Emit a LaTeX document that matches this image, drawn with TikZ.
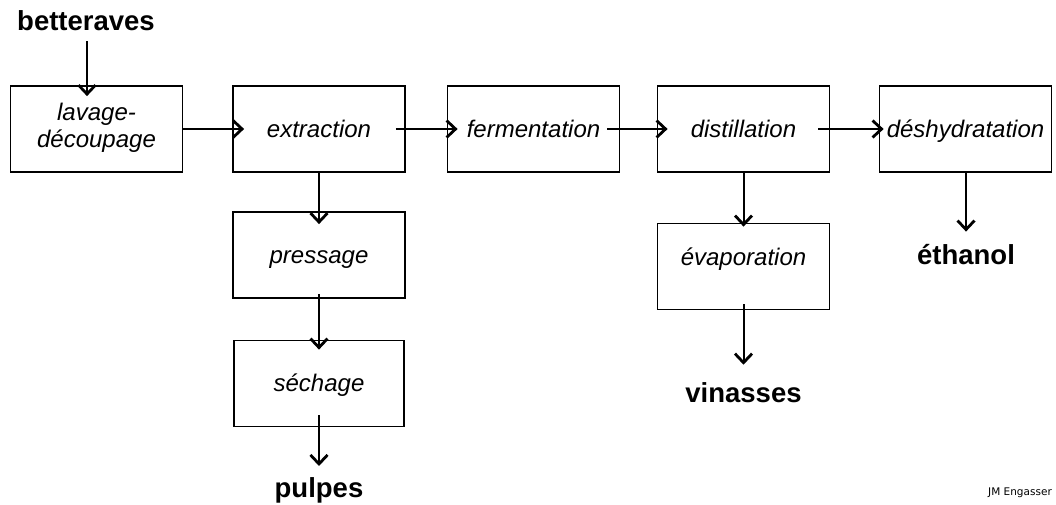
\documentclass[tikz,border=0pt]{standalone}
\usepackage{fontspec}
\setmainfont{Liberation Sans}
\newfontfamily\sigfont{DejaVu Sans}
\usetikzlibrary{arrows.meta}
\begin{document}
\begin{tikzpicture}[x=1pt,y=-1pt,
  procbox/.style={draw, line width=1.8pt, inner sep=0pt, minimum width=172pt, minimum height=86pt,
     align=center, text height=20pt, text depth=4pt, font=\fontsize{24}{26}\selectfont\itshape},
  outlbl/.style={inner sep=0pt, font=\fontsize{27.5}{30}\selectfont\bfseries},
  flow/.style={line width=2pt, -{Straight Barb[length=9pt,width=17pt,line width=2.8pt]}}]
\useasboundingbox (0,0) rectangle (1056,504);
% process boxes
\node[procbox, text height=, text depth=, font=\fontsize{24}{27}\selectfont\itshape] (lav) at (96.5,129) {\begin{tabular}{@{}c@{}}lavage-\\découpage\end{tabular}};
\node[procbox] (ext) at (319,129) {extraction};
\node[procbox] (ferm) at (533.5,129) {fermentation};
\node[procbox] (dist) at (743.5,129) {distillation};
\node[procbox] (desh) at (965.5,129) {déshydratation};
\node[procbox] (press) at (319,255) {pressage};
\node[procbox, minimum width=170pt] (sech) at (319,383.5) {séchage};
\node[procbox] (evap) at (743.5,266.5) {\raisebox{9.5pt}{évaporation}};
% outputs
\node[outlbl] (bett) at (86,21) {betteraves};
\node[outlbl] (pulp) at (319,490) {pulpes};
\node[outlbl] (vin) at (743.5,393) {vinasses};
\node[outlbl] (eth) at (966,255) {éthanol};
\node[inner sep=0pt, font=\sigfont\fontsize{10.5}{12}\selectfont] (sig) at (1020,493) {JM Engasser};
% connectors
\draw[flow, shorten <=10pt, shorten >=-11pt] (bett.south -| 87,0) -- (lav.north -| 87,0);
\draw[flow, shorten >=-12pt] (lav) -- (ext);
\draw[flow, shorten <=-10pt, shorten >=-11pt] (ext) -- (ferm);
\draw[flow, shorten <=-13pt, shorten >=-11pt] (ferm) -- (dist);
\draw[flow, shorten <=-12pt, shorten >=-5pt] (dist) -- (desh);
\draw[flow, shorten >=-13pt] (ext) -- (press);
\draw[flow, shorten <=-5pt, shorten >=-10pt] (press) -- (sech);
\draw[flow, shorten <=-12pt, shorten >=11pt] (sech) -- (pulp);
\draw[flow, shorten >=-4pt] (dist) -- (evap);
\draw[flow, shorten <=-6pt, shorten >=18pt] (evap) -- (vin);
\draw[flow, shorten >=13pt] (desh.south -| eth) -- (eth);
\end{tikzpicture}
\end{document}
